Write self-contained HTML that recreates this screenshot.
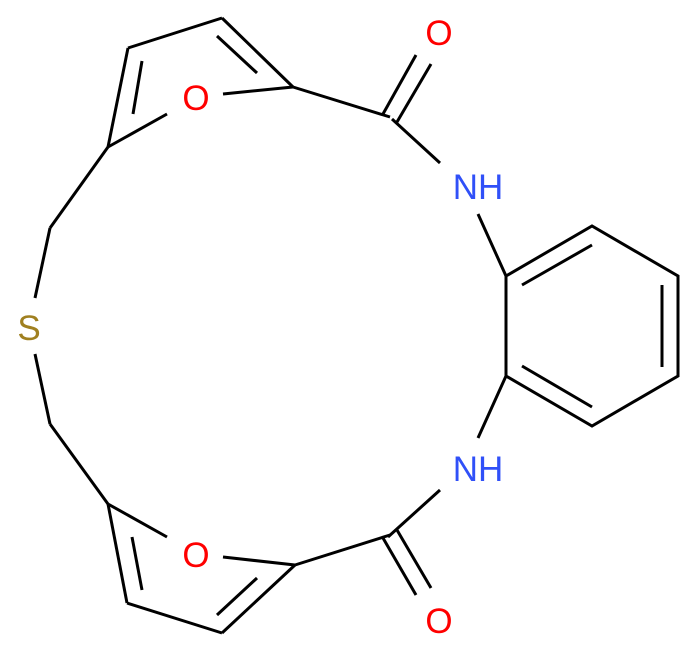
<!DOCTYPE html>
<html><head><style>html,body{margin:0;padding:0;background:#fff;}svg{display:block}</style></head>
<body>
<svg width="692" height="652" viewBox="0 0 692 652" xmlns="http://www.w3.org/2000/svg">
<g stroke="#000" stroke-width="3" fill="none" stroke-linecap="butt">
<!-- top furan -->
<line x1="108" y1="147" x2="128" y2="48"/>
<line x1="142" y1="61" x2="133" y2="114"/>
<line x1="128" y1="48" x2="222" y2="18"/>
<line x1="222" y1="18" x2="293" y2="87"/>
<line x1="217" y1="36" x2="257" y2="73"/>
<line x1="293" y1="87" x2="223" y2="94"/>
<line x1="167" y1="114" x2="108" y2="147"/>
<line x1="293" y1="87" x2="390" y2="117"/>
<line x1="383" y1="114" x2="416" y2="55"/>
<line x1="397" y1="122" x2="431" y2="64"/>
<line x1="392" y1="119" x2="440" y2="163"/>
<line x1="478" y1="214" x2="506" y2="276"/>
<line x1="108" y1="147" x2="50" y2="228"/>
<line x1="50" y1="228" x2="35" y2="298"/>
<!-- bottom -->
<line x1="35" y1="354" x2="50" y2="424"/>
<line x1="50" y1="424" x2="108" y2="504"/>
<line x1="108" y1="504" x2="167" y2="537"/>
<line x1="108" y1="504" x2="127" y2="603"/>
<line x1="132" y1="537" x2="142" y2="590"/>
<line x1="127" y1="603" x2="222" y2="633"/>
<line x1="222" y1="633" x2="295" y2="565"/>
<line x1="217" y1="615" x2="257" y2="578"/>
<line x1="295" y1="565" x2="223" y2="557"/>
<line x1="295" y1="565" x2="390" y2="535"/>
<line x1="388" y1="537" x2="440" y2="490"/>
<line x1="383" y1="538" x2="416" y2="595"/>
<line x1="397" y1="530" x2="431" y2="588"/>
<line x1="506" y1="376" x2="478" y2="438"/>
<!-- benzene -->
<polygon points="506,276 592,226 678,276 678,376 592,426 506,376"/>
<line x1="522" y1="285" x2="592" y2="245"/>
<line x1="662" y1="285" x2="662" y2="367"/>
<line x1="522" y1="366" x2="592" y2="407"/>
</g>
<g font-family="Liberation Sans, sans-serif" font-size="35" text-anchor="middle">
<text x="196" y="110" fill="#ff0000">O</text>
<text x="439" y="45" fill="#ff0000">O</text>
<text x="478" y="199" fill="#3050f8">NH</text>
<text x="29" y="340" fill="#a08020">S</text>
<text x="196" y="567" fill="#ff0000">O</text>
<text x="439" y="633" fill="#ff0000">O</text>
<text x="478" y="481" fill="#3050f8">NH</text>
</g>
</svg>
</body></html>
